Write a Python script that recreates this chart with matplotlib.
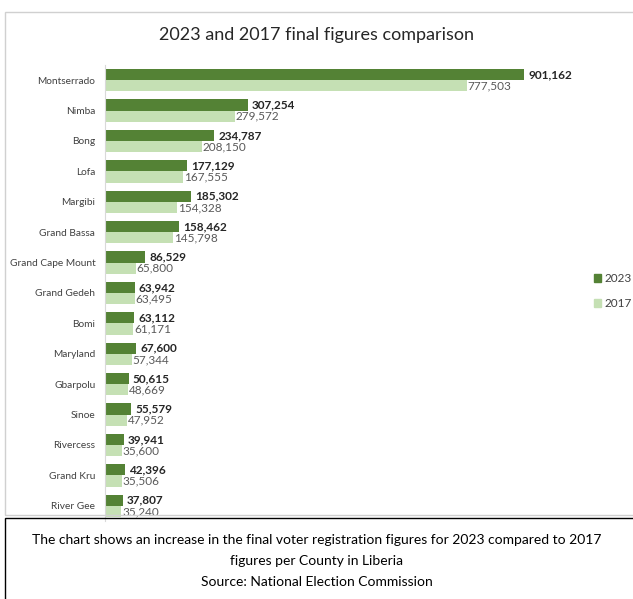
import matplotlib.pyplot as plt
import numpy as np
from matplotlib.patches import Rectangle, Patch

plt.rcParams['font.family'] = ['Lato', 'DejaVu Sans']

counties = ["Montserrado", "Nimba", "Bong", "Lofa", "Margibi", "Grand Bassa",
            "Grand Cape Mount", "Grand Gedeh", "Bomi", "Maryland", "Gbarpolu",
            "Sinoe", "Rivercess", "Grand Kru", "River Gee"]
v2023 = [901162, 307254, 234787, 177129, 185302, 158462, 86529, 63942,
         63112, 67600, 50615, 55579, 39941, 42396, 37807]
v2017 = [777503, 279572, 208150, 167555, 154328, 145798, 65800, 63495,
         61171, 57344, 48669, 47952, 35600, 35506, 35240]

c23 = "#548235"
c17 = "#c5e0b4"

fig = plt.figure(figsize=(6.33, 5.99), dpi=100)

# outer chart border and caption box
fig.patches.append(Rectangle((5/633, 1-515/599), 1.0, 503/599, transform=fig.transFigure,
                             fill=False, edgecolor="#d0d0d0", linewidth=1.0))
fig.patches.append(Rectangle((5/633, -0.01), 1.0, (599-518)/599 + 0.01, transform=fig.transFigure,
                             fill=False, edgecolor="black", linewidth=1.0))

ax = fig.add_axes([105/633, 1-521/599, (570-105)/633, (521-65)/599])
y = np.arange(len(counties))
h = 0.37
ax.barh(y - h/2, v2023, height=h, color=c23, label="2023")
ax.barh(y + h/2, v2017, height=h, color=c17, label="2017")

for yi, a, b in zip(y, v2023, v2017):
    ax.text(a + 9000, yi - h/2, f"{a:,}", va="center", ha="left", fontsize=8.5,
            fontweight="bold", color="#262626")
    ax.text(b + 2000, yi + h/2, f"{b:,}", va="center", ha="left", fontsize=8.5,
            color="#595959")

ax.set_xlim(0, 1000000)
ax.set_ylim(len(counties) - 0.5, -0.5)
ax.set_yticks(y)
ax.set_yticklabels(counties, fontsize=7.3, color="#404040")
ax.tick_params(axis="y", length=0, pad=7)
ax.set_xticks([])
for s in ["top", "right", "bottom"]:
    ax.spines[s].set_visible(False)
ax.spines["left"].set_color("#d9d9d9")

fig.text(0.5, 1-35/599, "2023 and 2017 final figures comparison", ha="center", va="center",
         fontsize=13, color="#262626")

handles = [Patch(color=c23, label="2023"), Patch(color=c17, label="2017")]
fig.legend(handles=handles, loc="center left", bbox_to_anchor=(583/633, 1-291/599),
           frameon=False, fontsize=8.5, handlelength=0.6, handleheight=0.6,
           handletextpad=0.3, labelspacing=1.2, labelcolor="#404040")

caption = ["The chart shows an increase in the final voter registration figures for 2023 compared to 2017",
           "figures per County in Liberia",
           "Source: National Election Commission"]
for i, line in enumerate(caption):
    fig.text(0.5, 1-(540 + 21*i)/599, line, ha="center", va="center", fontsize=10, color="black")

fig.savefig("out.png", dpi=100)
